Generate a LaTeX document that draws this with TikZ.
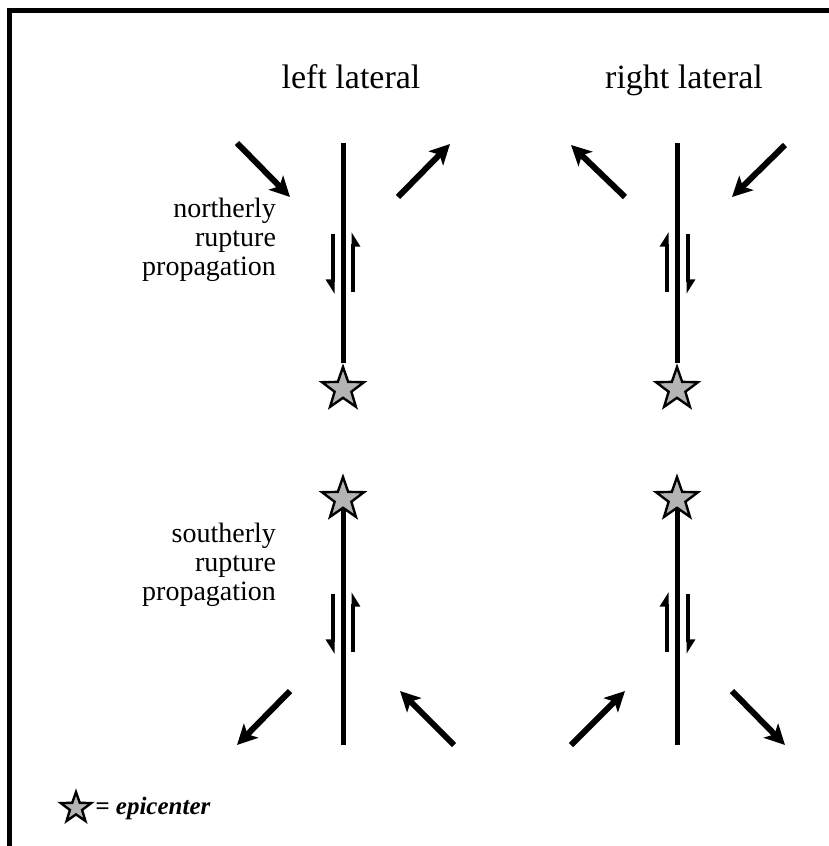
\documentclass[tikz,border=0pt]{standalone}
\usepackage{fontspec}
\setmainfont{Liberation Serif}
\usetikzlibrary{arrows.meta,shapes.geometric}
\definecolor{ink}{HTML}{000000}
\definecolor{stipple}{HTML}{B4B4B4}

\begin{document}
\begin{tikzpicture}[x=0.5pt, y=-0.5pt,
    fault/.style={line width=2.5pt, ink},
    push/.style={line width=3pt, ink, -{Stealth[length=10pt, width=10pt, inset=2.5pt]}},
    slip/.style={line width=2.2pt, ink, -{Triangle[harpoon, length=6pt, width=7pt]}},
    epi/.style={star, star points=5, star point ratio=2.5, draw=ink, line width=1.2pt,
      fill=stipple, minimum size=22pt, inner sep=0pt},
    head/.style={font=\fontsize{17}{19}\selectfont, anchor=base},
    lbl/.style={font=\fontsize{14}{14.5}\selectfont, align=right, anchor=east}]

      \useasboundingbox (0,0) rectangle (829,846);
      % frame, open on the right and at the bottom
      \draw[line width=2.25pt] (9.5,846) -- (9.5,10.5) -- (829,10.5);

      % column heads and row labels
      \node[head] (headL) at (351,88) {left lateral};
      \node[head] (headR) at (684,88) {right lateral};
      \node[lbl] (rowN) at (283,240) {northerly\\rupture\\propagation};
      \node[lbl] (rowS) at (283,565) {southerly\\rupture\\propagation};

      % faults with their epicenters
      \foreach \n/\x in {L/343, R/677} {
        \coordinate (top\n) at (\x,143);
        \node[epi] (starN\n) at (\x,389) {};
        \draw[fault] (top\n) -- (starN\n);
        \coordinate (bot\n) at (\x,745);
        \node[epi] (starS\n) at (\x,499) {};
        \draw[fault] (starS\n) -- (bot\n);
      }

      % slip on the faults
      \foreach \y in {234, 594} {
        \draw[slip, -{Triangle[harpoon, swap, length=6pt, width=7pt]}]
          (333,\y) -- (333,\y+60);
        \draw[slip, -{Triangle[harpoon, swap, length=6pt, width=7pt]}]
          (353,\y+58) -- (353,\y-2);
        \draw[slip] (667,\y+58) -- (667,\y-2);
        \draw[slip] (688,\y) -- (688,\y+60);
      }

      % rupture directivity
      \foreach \xa/\ya/\xb/\yb in {237/143/290/197, 398/197/450/144,
        625/197/571/145, 785/145/732/197, 290/691/237/745, 454/745/400/691,
        571/745/625/691, 732/691/785/745} {
        \draw[push] (\xa,\ya) -- (\xb,\yb);
      }

      % key
      \node[epi, minimum size=16pt] (keystar) at (76,808) {};
      \node[anchor=west, inner sep=0pt, font=\fontsize{12.5}{14}\selectfont\bfseries\itshape]
        (keytext) at (95,808) {= epicenter};
    \end{tikzpicture}
\end{document}
